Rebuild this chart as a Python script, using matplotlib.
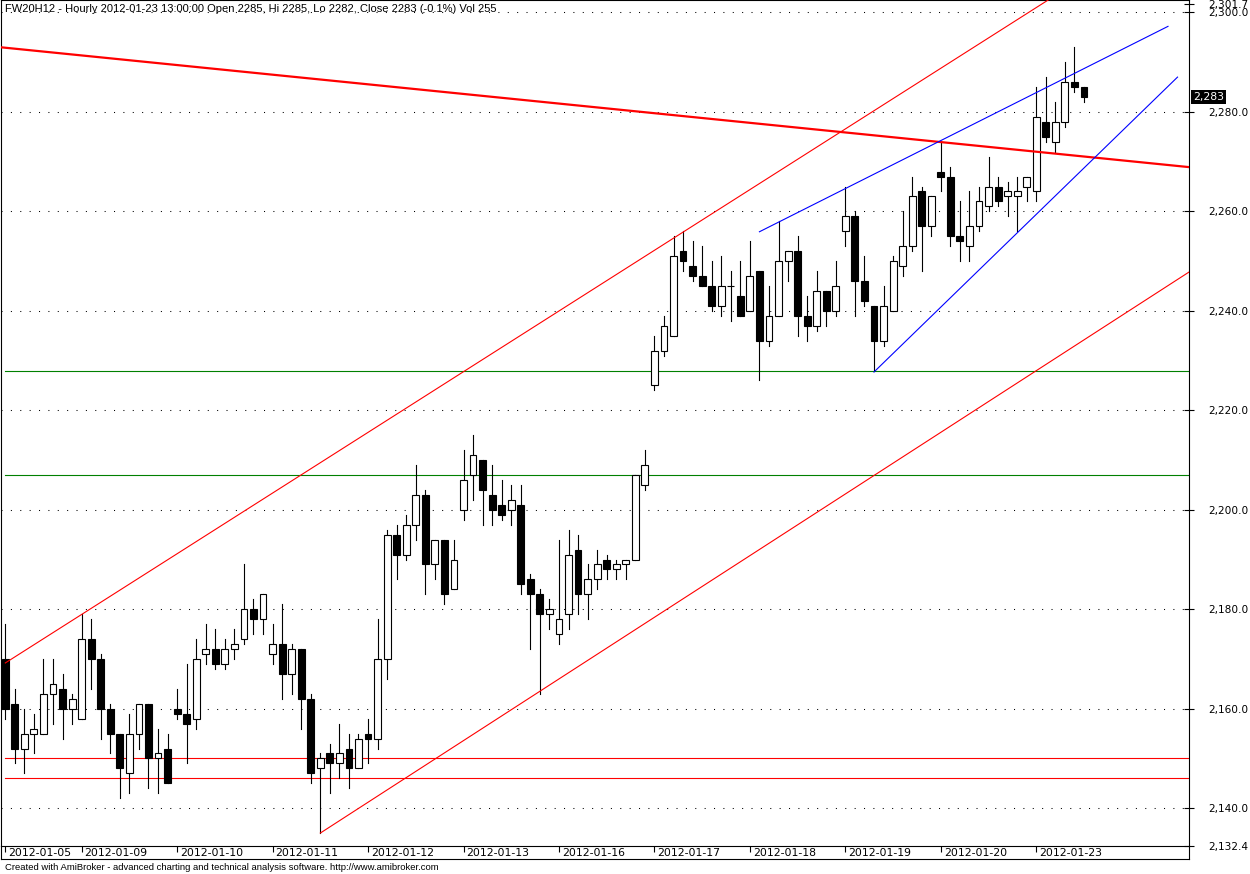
import numpy as np
import matplotlib.pyplot as plt
from matplotlib.patches import Rectangle
from matplotlib.lines import Line2D
from matplotlib.transforms import blended_transform_factory

# hourly FW20H12 bars, 2012-01-05 .. 2012-01-23 13:00
opens = [2170, 2161, 2152, 2155, 2155, 2163, 2164, 2160,
         2158, 2174, 2170, 2160, 2155, 2147, 2155, 2161, 2150, 2152,
         2160, 2159, 2158, 2171, 2172, 2169, 2172, 2174, 2180, 2178,
         2171, 2173, 2167, 2172, 2162, 2148, 2151, 2149, 2152, 2148,
         2155, 2154, 2170, 2195, 2191, 2197, 2203, 2189, 2194, 2184,
         2200, 2207, 2210, 2203, 2201, 2200, 2201, 2186, 2183, 2179,
         2175, 2179, 2192, 2183, 2186, 2190, 2188, 2189, 2190, 2205,
         2225, 2232, 2235, 2252, 2249, 2247, 2245, 2241, 2245, 2243,
         2240, 2248, 2234, 2239, 2250, 2252, 2239, 2237, 2244, 2240,
         2256, 2259, 2246, 2241, 2234, 2240, 2249, 2253, 2264, 2257,
         2268, 2267, 2255, 2253, 2257, 2261, 2265, 2263, 2263, 2265,
         2264, 2278, 2274, 2278, 2286, 2285]
highs = [2177, 2164, 2160, 2159, 2170, 2170, 2167, 2163,
         2179, 2178, 2171, 2161, 2155, 2159, 2161, 2161, 2156, 2155,
         2164, 2169, 2174, 2177, 2176, 2174, 2176, 2189, 2182, 2183,
         2177, 2181, 2173, 2172, 2163, 2151, 2153, 2157, 2155, 2155,
         2158, 2178, 2196, 2197, 2199, 2209, 2204, 2194, 2194, 2194,
         2212, 2215, 2210, 2209, 2206, 2205, 2205, 2187, 2184, 2182,
         2194, 2196, 2195, 2189, 2192, 2191, 2190, 2190, 2207, 2212,
         2235, 2239, 2255, 2256, 2254, 2253, 2250, 2251, 2248, 2250,
         2254, 2248, 2245, 2258, 2252, 2255, 2243, 2248, 2244, 2250,
         2265, 2260, 2251, 2241, 2245, 2251, 2260, 2267, 2265, 2263,
         2274, 2269, 2262, 2264, 2265, 2271, 2267, 2266, 2267, 2267,
         2285, 2287, 2282, 2290, 2293, 2285]
lows = [2158, 2149, 2147, 2151, 2155, 2157, 2154, 2157,
        2158, 2164, 2154, 2151, 2142, 2143, 2152, 2144, 2143, 2145,
        2158, 2149, 2156, 2169, 2168, 2168, 2170, 2173, 2175, 2175,
        2169, 2162, 2163, 2156, 2145, 2135, 2143, 2146, 2144, 2148,
        2149, 2152, 2166, 2186, 2190, 2194, 2183, 2186, 2181, 2184,
        2198, 2202, 2197, 2197, 2198, 2197, 2183, 2172, 2163, 2176,
        2173, 2176, 2179, 2178, 2184, 2186, 2186, 2186, 2190, 2204,
        2224, 2231, 2235, 2248, 2246, 2245, 2240, 2239, 2238, 2239,
        2240, 2226, 2233, 2239, 2246, 2235, 2234, 2236, 2237, 2239,
        2253, 2239, 2241, 2228, 2233, 2240, 2247, 2252, 2248, 2255,
        2264, 2253, 2250, 2250, 2256, 2260, 2261, 2259, 2256, 2262,
        2262, 2274, 2272, 2277, 2284, 2282]
closes = [2160, 2152, 2155, 2156, 2163, 2165, 2160, 2162,
          2174, 2170, 2160, 2155, 2148, 2155, 2161, 2150, 2151, 2145,
          2159, 2157, 2170, 2172, 2169, 2172, 2173, 2180, 2178, 2183,
          2173, 2167, 2172, 2162, 2147, 2150, 2149, 2151, 2148, 2154,
          2154, 2170, 2195, 2191, 2197, 2203, 2189, 2194, 2183, 2190,
          2206, 2211, 2204, 2200, 2199, 2202, 2185, 2183, 2179, 2180,
          2178, 2191, 2183, 2186, 2189, 2188, 2189, 2190, 2207, 2209,
          2232, 2237, 2251, 2250, 2247, 2245, 2241, 2245, 2245, 2239,
          2247, 2234, 2239, 2250, 2252, 2239, 2237, 2244, 2240, 2245,
          2259, 2246, 2242, 2234, 2241, 2250, 2253, 2263, 2257, 2263,
          2267, 2255, 2254, 2257, 2262, 2265, 2262, 2264, 2264, 2267,
          2279, 2275, 2278, 2286, 2285, 2283]

date_idx = [0, 8, 18, 28, 38, 48, 58, 68, 78, 88, 98, 108]
date_lbl = ['2012-01-05', '2012-01-09', '2012-01-10', '2012-01-11',
            '2012-01-12', '2012-01-13', '2012-01-16', '2012-01-17',
            '2012-01-18', '2012-01-19', '2012-01-20', '2012-01-23']

# drawn studies: (bar index, price) end points
resist_x, resist_y = [-0.5, 124.0], [2293.0, 2268.9]
chan_up_x, chan_up_y = [0, 124.0], [2169.2, 2320.5]
chan_lo_x, chan_lo_y = [33, 124.0], [2135.0, 2247.8]
wedge_up_x, wedge_up_y = [79, 121.8], [2255.9, 2297.2]
wedge_lo_x, wedge_lo_y = [91, 122.8], [2227.7, 2287.0]
red_levels = [2150.1, 2146.1]
green_levels = [2228.0, 2207.0]

grid_levels = list(range(2140, 2301, 20))
ymin, ymax = 2132.4, 2302.5
last_close = 2283

W, H = 1250, 874
fig = plt.figure(figsize=(W / 100, H / 100), dpi=100)
ax = fig.add_axes([1 / W, 28 / H, 1188 / W, 846 / H])
ax.set_xlim(-0.45, 124.0)
ax.set_ylim(ymin, ymax)

for lv in grid_levels:
    ax.axhline(lv, color='k', lw=0.75, ls=(0, (1, 8)), zorder=1)

n = len(opens)
for i in range(n):
    o, h, l, c = opens[i], highs[i], lows[i], closes[i]
    ax.plot([i, i], [l, h], color='k', lw=0.8, zorder=3)
    fc = 'white' if c >= o else 'black'
    ax.add_patch(Rectangle((i - 0.36, min(o, c)), 0.72, abs(c - o),
                           facecolor=fc, edgecolor='k', lw=0.8, zorder=4))

lo_x = [0, 124.0]
for lv in red_levels:
    ax.plot(lo_x, [lv, lv], color='#ff0000', lw=0.8, zorder=2)
for lv in green_levels:
    ax.plot(lo_x, [lv, lv], color='#008000', lw=0.8, zorder=2)

ax.plot(resist_x, resist_y, color='#ff0000', lw=1.6, zorder=5)
ax.plot(chan_up_x, chan_up_y, color='#ff0000', lw=0.8, zorder=5)
ax.plot(chan_lo_x, chan_lo_y, color='#ff0000', lw=0.8, zorder=5)
ax.plot(wedge_up_x, wedge_up_y, color='#0000ff', lw=0.8, zorder=5)
ax.plot(wedge_lo_x, wedge_lo_y, color='#0000ff', lw=0.8, zorder=5)

# right price scale
yt = grid_levels + [2301.7, ymin]
ax.yaxis.tick_right()
ax.set_yticks(yt)
ax.set_yticklabels([f'{v:,.1f}' for v in yt])
ax.tick_params(axis='y', direction='inout', length=7, width=0.8, pad=10.5,
               labelsize=7.6, left=False)
ax.set_xticks(date_idx)
ax.set_xticklabels([])
ax.tick_params(axis='x', direction='out', length=4, width=0.8)
for sp in ax.spines.values():
    sp.set_linewidth(0.8)

for i, lbl in zip(date_idx, date_lbl):
    ax.annotate(lbl, xy=(i, 0), xycoords=('data', 'axes fraction'),
                xytext=(3, -7), textcoords='offset pixels',
                ha='left', va='center', fontsize=7.8)

tr = blended_transform_factory(ax.transAxes, ax.transData)
ax.annotate(f'{last_close:,}', xy=(1.0, last_close), xycoords=tr,
            xytext=(4, 0), textcoords='offset pixels', ha='left', va='center',
            color='white', fontsize=7.8,
            bbox=dict(facecolor='black', edgecolor='none', pad=1.5))

# box under the date row
def fl(x0, y0, x1, y1):
    fig.add_artist(Line2D([x0 / W, x1 / W], [1 - y0 / H, 1 - y1 / H],
                          color='k', lw=0.8))

fl(1, 859, 1189, 859)
fl(1, 846, 1, 859)
fl(1189, 846, 1189, 859)

fig.text(5 / W, 1 - 9 / H,
         'FW20H12 - Hourly 2012-01-23 13:00:00 Open 2285, Hi 2285, Lo 2282, '
         'Close 2283 (-0.1%) Vol 255', fontsize=8.0, family='Liberation Sans',
         va='center', ha='left')
fig.text(5 / W, 1 - 867 / H,
         'Created with AmiBroker - advanced charting and technical analysis '
         'software. http://www.amibroker.com', fontsize=6.8,
         family='Liberation Sans', va='center', ha='left')

fig.savefig('out.png', dpi=100, facecolor='white')
